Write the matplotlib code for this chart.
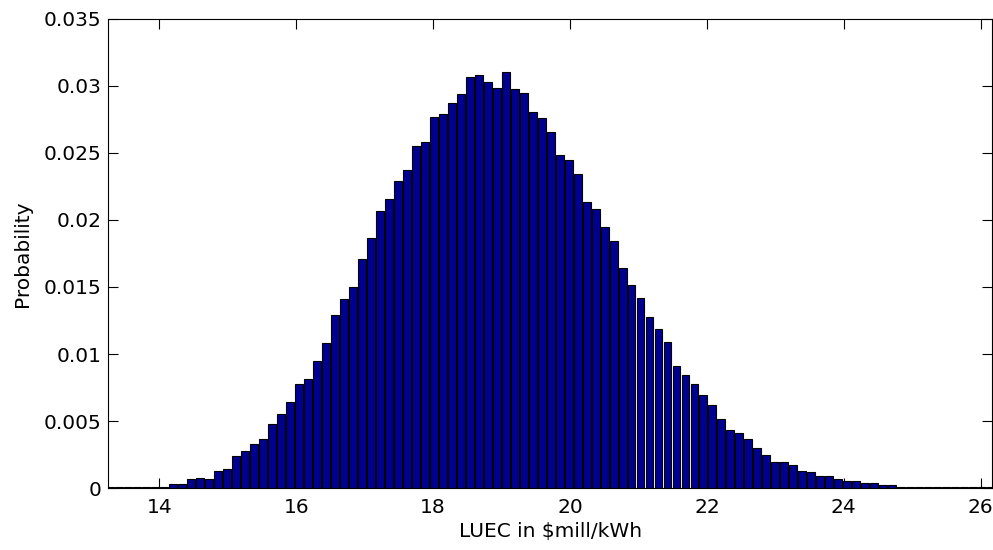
"""
Histogram of LUEC (levelised unit electricity cost) probability
"""
import numpy as np
import matplotlib

matplotlib.use("Agg")

import matplotlib.pyplot as plt
from matplotlib.ticker import FixedLocator, FixedFormatter

# histogram bins (centre of first bin and bin width, $mill/kWh)
bin_first = 13.284
bin_width = 0.1313

# probability per bin
probability = [
    0.00006, 0.00006, 0.00006, 0.00006, 0.00006, 0.00006, 0.0001, 0.00027,
    0.00027, 0.00065, 0.00077, 0.00065, 0.0013, 0.00144, 0.00236, 0.00278,
    0.0033, 0.00368, 0.00475, 0.00552, 0.00642, 0.00776, 0.00813, 0.00948,
    0.0108, 0.0129, 0.01408, 0.0150, 0.01709, 0.01868, 0.02067, 0.02157,
    0.02291, 0.02371, 0.02552, 0.0258, 0.02766, 0.02791, 0.02871, 0.02938,
    0.0307, 0.03082, 0.03027, 0.02987, 0.03107, 0.02975, 0.0295, 0.02803,
    0.02764, 0.02657, 0.02487, 0.02448, 0.02343, 0.02132, 0.02082, 0.01948,
    0.01843, 0.01644, 0.01515, 0.0142, 0.01276, 0.01187, 0.01092, 0.00908,
    0.00841, 0.00776, 0.00696, 0.00617, 0.00513, 0.00433, 0.00408, 0.00368,
    0.00301, 0.00249, 0.00196, 0.00196, 0.00169, 0.00129, 0.00117, 0.0009,
    0.0009, 0.00068, 0.0005, 0.0005, 0.00035, 0.00035, 0.0002, 0.0002,
    0.0001, 0.00006, 0.00006, 0.00006, 0.00006, 0.00006, 0.00006, 0.00006,
    0.00006, 0.00006, 0.00006,
]

x_ticks = [14, 16, 18, 20, 22, 24, 26]
y_ticks = [0, 0.005, 0.01, 0.015, 0.02, 0.025, 0.03, 0.035]
y_tick_labels = ["0", "0.005", "0.01", "0.015", "0.02", "0.025", "0.03", "0.035"]

plt.rcParams["font.family"] = ["DejaVu Sans"]
plt.rcParams["font.size"] = 14.5

centres = bin_first + bin_width * np.arange(len(probability))

fig = plt.figure(figsize=(9.93, 5.5), dpi=100)
ax = fig.add_axes([0.109, 0.1127, 0.89, 0.8528])

ax.bar(centres, probability, width=bin_width * 0.88, color="#000090",
       edgecolor="black", linewidth=0.8, zorder=2)

# matlab-ish axes: box on, ticks pointing in on every side
ax.set_xlim(13.255, 26.165)
ax.set_ylim(0, 0.035)
ax.xaxis.set_major_locator(FixedLocator(x_ticks))
ax.yaxis.set_major_locator(FixedLocator(y_ticks))
ax.yaxis.set_major_formatter(FixedFormatter(y_tick_labels))
ax.tick_params(direction="in", length=7, width=0.8, top=True, right=True)
ax.tick_params(axis="x", pad=7)
ax.tick_params(axis="y", pad=5)
for s in ax.spines.values():
    s.set_linewidth(0.8)

ax.set_xlabel("LUEC in $mill/kWh".replace("$", r"\$"), labelpad=4)
ax.set_ylabel("Probability", labelpad=8)

fig.savefig("out.png", dpi=100)
